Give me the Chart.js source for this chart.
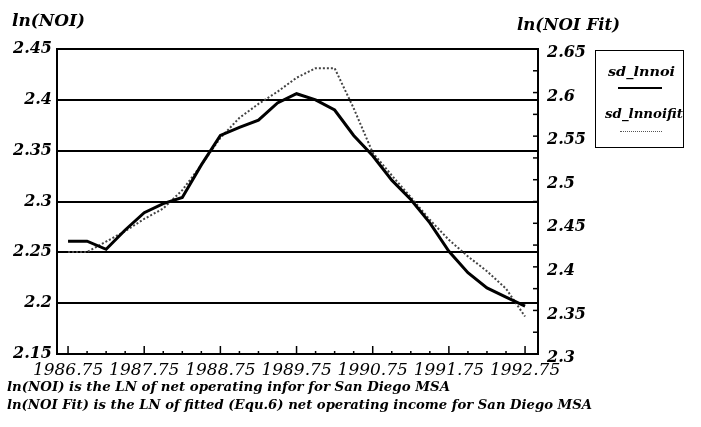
<!DOCTYPE html>
<html><head><meta charset="utf-8">
<script src="https://cdn.jsdelivr.net/npm/chart.js@4"></script>
<style>
body{margin:0;background:#fff;}
#wrap{position:relative;width:701px;height:427px;overflow:hidden;}
canvas{position:absolute;left:0;top:0;}
.t{position:absolute;font-family:"DejaVu Serif";font-style:italic;font-weight:bold;color:#000;white-space:nowrap;line-height:1;transform-origin:0 0;}
#leg{position:absolute;left:595px;top:50px;width:89px;height:98px;border:1.5px solid #000;box-sizing:border-box;}
.ln{position:absolute;}
</style></head><body>
<div id="wrap">
<canvas id="c" width="701" height="427"></canvas>
<div class="t" id="tl" style="left:12px;top:11.5px;font-size:17px">ln(NOI)</div>
<div class="t" id="tr" style="left:517px;top:15.5px;font-size:17px">ln(NOI Fit)</div>
<div id="leg"></div>
<div class="t" id="l1" style="left:608px;top:65px;font-size:13px">sd_lnnoi</div>
<div class="ln" style="left:618px;top:87px;width:44px;border-top:2px solid #000"></div>
<div class="t" id="l2" style="left:605px;top:107px;font-size:13px">sd_lnnoifit</div>
<div class="ln" style="left:620px;top:131px;width:42px;border-top:1.5px dotted #555"></div>
<div class="t" id="f1" style="left:7px;top:380px;font-size:13.5px">ln(NOI) is the LN of net operating infor for San Diego MSA</div>
<div class="t" id="f2" style="left:7px;top:398px;font-size:13.5px">ln(NOI Fit) is the LN of fitted (Equ.6) net operating income for San Diego MSA</div>
</div>
<script>
const quarters = [1986.75, 1987.00, 1987.25, 1987.50, 1987.75, 1988.00, 1988.25, 1988.50, 1988.75,
  1989.00, 1989.25, 1989.50, 1989.75, 1990.00, 1990.25, 1990.50, 1990.75, 1991.00, 1991.25,
  1991.50, 1991.75, 1992.00, 1992.25, 1992.50, 1992.75];
const lnNOI = [2.261, 2.261, 2.253, 2.272, 2.289, 2.298, 2.304, 2.336, 2.365, 2.373, 2.380, 2.397,
  2.406, 2.400, 2.390, 2.365, 2.345, 2.321, 2.302, 2.279, 2.251, 2.230, 2.215, 2.206, 2.197];
const lnNOIFit = [2.417, 2.417, 2.429, 2.441, 2.455, 2.467, 2.488, 2.517, 2.548, 2.571, 2.587, 2.601,
  2.617, 2.628, 2.628, 2.582, 2.531, 2.505, 2.480, 2.454, 2.431, 2.412, 2.395, 2.375, 2.343];
const xLabelTicks = [1986.75, 1987.75, 1988.75, 1989.75, 1990.75, 1991.75, 1992.75];

function fit(id, w){ const el=document.getElementById(id); const cw=el.getBoundingClientRect().width; el.style.transform='scaleX('+(w/cw)+')'; }
fit('tl',73); fit('tr',103); fit('l1',67); fit('l2',78); fit('f1',443); fit('f2',585);

const isMajor = v => xLabelTicks.some(m => Math.abs(m - v) < 1e-6);
const fmt = v => String(parseFloat(Number(v).toFixed(3)));

const inTicks = {
  id:'inTicks',
  afterDatasetsDraw(chart){
    const {ctx, chartArea:a, scales:{x, y1}} = chart;
    ctx.save(); ctx.strokeStyle='#000'; ctx.lineWidth=1.5;
    x.ticks.forEach(t=>{ const px=x.getPixelForValue(t.value); const len=isMajor(t.value)?8:3;
      ctx.beginPath(); ctx.moveTo(px,a.bottom); ctx.lineTo(px,a.bottom-len); ctx.stroke(); });
    y1.ticks.forEach(t=>{ const py=y1.getPixelForValue(t.value);
      ctx.beginPath(); ctx.moveTo(a.right,py); ctx.lineTo(a.right-5,py); ctx.stroke(); });
    ctx.restore();
  }
};

const yFont = {family:'DejaVu Serif', style:'italic', weight:'bold', size:16};
new Chart(document.getElementById('c'), {
  type:'line',
  data:{ datasets:[
    { label:'sd_lnnoi', data: quarters.map((q,i)=>({x:q,y:lnNOI[i]})), yAxisID:'y',
      borderColor:'#000', borderWidth:3, pointRadius:0, tension:0, fill:false },
    { label:'sd_lnnoifit', data: quarters.map((q,i)=>({x:q,y:lnNOIFit[i]})), yAxisID:'y1',
      borderColor:'#444', borderWidth:2, borderDash:[2,2], pointRadius:0, tension:0, fill:false }
  ]},
  options:{
    responsive:false, animation:false,
    layout:{padding:{top:49,left:0,right:0,bottom:0}},
    plugins:{legend:{display:false}, tooltip:{enabled:false}},
    scales:{
      x:{ type:'linear', position:'bottom', min:1986.605, max:1992.92,
        afterBuildTicks: s => { s.ticks = quarters.map(v=>({value:v})); },
        afterFit: s => { s.height = 73; },
        grid:{display:false, drawTicks:false},
        border:{display:true, color:'#000', width:2},
        ticks:{ autoSkip:false, maxRotation:0, padding:6, color:'#000',
          font:{family:'DejaVu Serif', style:'italic', size:17},
          callback: v => isMajor(v) ? Number(v).toFixed(2) : '' } },
      y:{ type:'linear', position:'left', min:2.15, max:2.45,
        afterFit: s => { s.width = 57; },
        grid:{color:'#000', lineWidth:2, drawTicks:false},
        border:{display:true, color:'#000', width:2},
        ticks:{ stepSize:0.05, padding:5, color:'#000', font:yFont, callback: v => fmt(v) } },
      y1:{ type:'linear', position:'right', min:2.3, max:2.65,
        afterFit: s => { s.width = 163; },
        grid:{drawOnChartArea:false, drawTicks:false},
        border:{display:true, color:'#000', width:2},
        ticks:{ stepSize:0.025, padding:9, labelOffset:4, color:'#000', font:yFont, autoSkip:false,
          callback: v => (Math.abs(Math.round(v*20) - v*20) < 1e-6) ? fmt(v) : '' } }
    }
  },
  plugins:[inTicks]
});
</script>
</body></html>
